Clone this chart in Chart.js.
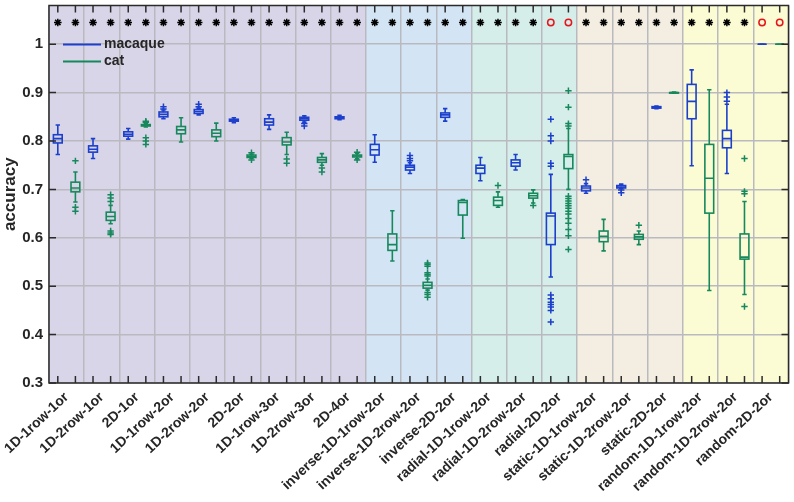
<!DOCTYPE html>
<html>
<head>
<meta charset="utf-8">
<script src="https://cdn.jsdelivr.net/npm/chart.js@4.4.1/dist/chart.umd.min.js"></script>
<style>
  html, body { margin: 0; padding: 0; background: #fff; }
  #wrap { width: 794px; height: 502px; }
</style>
</head>
<body>
<div id="wrap"><canvas id="chart" width="794" height="502"></canvas></div>
<script>
// Categories
const categories = [
  '1D-1row-1or', '1D-2row-1or', '2D-1or', '1D-1row-2or', '1D-2row-2or', '2D-2or',
  '1D-1row-3or', '1D-2row-3or', '2D-4or',
  'inverse-1D-1row-2or', 'inverse-1D-2row-2or', 'inverse-2D-2or',
  'radial-1D-1row-2or', 'radial-1D-2row-2or', 'radial-2D-2or',
  'static-1D-1row-2or', 'static-1D-2row-2or', 'static-2D-2or',
  'random-1D-1row-2or', 'random-1D-2row-2or', 'random-2D-2or'
];
const yTicks = [0.3, 0.4, 0.5, 0.6, 0.7, 0.8, 0.9, 1];

// Macaque box stats
const macLo  = [0.772, 0.764, 0.804, 0.846, 0.854, 0.838, 0.824, 0.839, 0.844, 0.756, 0.733, 0.841, 0.718, 0.740, 0.519, 0.692, 0.702, 0.867, 0.749, 0.733, 1.0];
const macQ1  = [0.796, 0.777, 0.810, 0.850, 0.857, 0.841, 0.833, 0.843, 0.846, 0.771, 0.740, 0.849, 0.733, 0.748, 0.586, 0.697, 0.703, 0.868, 0.846, 0.786, 1.0];
const macMed = [0.805, 0.783, 0.814, 0.855, 0.861, 0.843, 0.839, 0.846, 0.848, 0.782, 0.746, 0.854, 0.744, 0.755, 0.645, 0.703, 0.705, 0.869, 0.882, 0.805, 1.0];
const macQ3  = [0.813, 0.790, 0.819, 0.860, 0.865, 0.845, 0.846, 0.849, 0.850, 0.793, 0.750, 0.858, 0.750, 0.761, 0.651, 0.707, 0.708, 0.871, 0.917, 0.822, 1.0];
const macHi  = [0.833, 0.805, 0.826, 0.864, 0.868, 0.848, 0.854, 0.852, 0.853, 0.813, 0.755, 0.867, 0.766, 0.772, 0.731, 0.712, 0.711, 0.872, 0.947, 0.876, 1.0];
const macOut = [
  [], [], [], [0.871, 0.866], [0.876, 0.871], [], [], [0.836, 0.831], [], [],
  [0.770, 0.764, 0.759], [], [], [],
  [0.845, 0.811, 0.800, 0.754, 0.748, 0.482, 0.474, 0.467, 0.462, 0.457, 0.450, 0.426],
  [0.720], [0.699, 0.693], [], [], [0.900, 0.891, 0.882], []
];

// Cat box stats
const catLo  = [0.674, 0.629, 0.829, 0.798, 0.800, 0.764, 0.772, 0.750, 0.763, 0.552, 0.492, 0.599, 0.663, 0.672, 0.700, 0.573, 0.586, 0.899, 0.491, 0.483, 1.0];
const catQ1  = [0.695, 0.636, 0.831, 0.815, 0.809, 0.766, 0.792, 0.756, 0.767, 0.574, 0.496, 0.647, 0.667, 0.682, 0.743, 0.592, 0.597, 0.899, 0.651, 0.556, 1.0];
const catMed = [0.703, 0.644, 0.833, 0.823, 0.816, 0.768, 0.798, 0.761, 0.769, 0.586, 0.502, 0.673, 0.677, 0.687, 0.768, 0.603, 0.602, 0.900, 0.723, 0.560, 1.0];
const catQ3  = [0.715, 0.653, 0.834, 0.830, 0.823, 0.771, 0.807, 0.766, 0.771, 0.608, 0.508, 0.677, 0.684, 0.692, 0.772, 0.614, 0.607, 0.900, 0.793, 0.608, 1.0];
const catHi  = [0.736, 0.667, 0.836, 0.848, 0.837, 0.773, 0.818, 0.774, 0.775, 0.656, 0.515, 0.679, 0.695, 0.699, 0.826, 0.638, 0.614, 0.901, 0.906, 0.675, 1.0];
const catOut = [
  [0.759, 0.663, 0.655], [0.689, 0.682, 0.675, 0.614, 0.610, 0.607],
  [0.841, 0.839, 0.807, 0.800, 0.793], [], [], [0.776, 0.761],
  [0.763, 0.754], [0.744, 0.736], [0.777, 0.761], [],
  [0.548, 0.545, 0.541, 0.528, 0.524, 0.521, 0.487, 0.483, 0.477], [],
  [0.708], [0.667],
  [0.904, 0.870, 0.836, 0.831, 0.686, 0.681, 0.676, 0.671, 0.666, 0.661, 0.655, 0.649, 0.640, 0.630, 0.617, 0.604, 0.576],
  [], [0.626], [], [], [0.764, 0.696, 0.691, 0.458], []
];

// Significance marks above each box ('*' or 'o'), macaque and cat
const macSig = ['*','*','*','*','*','*','*','*','*','*','*','*','*','*','o','*','*','*','*','*','o'];
const catSig = ['*','*','*','*','*','*','*','*','*','*','*','*','*','*','o','*','*','*','*','*','o'];
const sigLevel = 1.045;

// Background groups (first category index of each group)
const groupStarts = [0, 9, 12, 15, 18, 21];
const groupColors = ['#d9d5e9', '#d3e5f5', '#d5eeea', '#f3eee1', '#fcfcd4'];

const macColor = '#1c3fcc';
const catColor = '#17885c';
const gridColor = '#b9b9bf';
const axisColor = '#2b2b2b';
const FONT = '"Liberation Sans", Arial, sans-serif';

const macX = i => 2 * i + 0.5;
const catX = i => 2 * i + 1.5;

const macOutPts = [];
macOut.forEach((arr, i) => arr.forEach(v => macOutPts.push({ x: macX(i), y: v })));
const catOutPts = [];
catOut.forEach((arr, i) => arr.forEach(v => catOutPts.push({ x: catX(i), y: v })));

const sigPts = [], sigStyles = [], sigColors = [];
categories.forEach((c, i) => {
  [[macX(i), macSig[i]], [catX(i), catSig[i]]].forEach(([x, s]) => {
    sigPts.push({ x: x, y: sigLevel });
    sigStyles.push(s === '*' ? 'star' : 'circle');
    sigColors.push(s === '*' ? '#000' : '#e8141b');
  });
});

// Background bands
const bandsPlugin = {
  id: 'bands',
  beforeDraw(chart) {
    const { ctx, chartArea: a, scales: { x } } = chart;
    ctx.save();
    for (let g = 0; g < groupColors.length; g++) {
      const x0 = x.getPixelForValue(groupStarts[g] * 2);
      const x1 = x.getPixelForValue(groupStarts[g + 1] * 2);
      ctx.fillStyle = groupColors[g];
      ctx.fillRect(x0, a.top, x1 - x0, a.bottom - a.top);
    }
    ctx.restore();
  }
};

// Boxes, whiskers, medians
function drawBox(ctx, xs, ys, xv, lo, q1, med, q3, hi, color) {
  const xc = xs.getPixelForValue(xv);
  const hw = xs.getPixelForValue(xv + 0.25) - xc;
  const cw = hw * 0.5;
  const p = v => ys.getPixelForValue(v);
  ctx.strokeStyle = color;
  ctx.lineWidth = 1.6;
  ctx.beginPath();
  ctx.moveTo(xc, p(q3)); ctx.lineTo(xc, p(hi));
  ctx.moveTo(xc, p(q1)); ctx.lineTo(xc, p(lo));
  ctx.moveTo(xc - cw, p(hi)); ctx.lineTo(xc + cw, p(hi));
  ctx.moveTo(xc - cw, p(lo)); ctx.lineTo(xc + cw, p(lo));
  ctx.stroke();
  ctx.strokeRect(xc - hw, p(q3), hw * 2, p(q1) - p(q3));
  ctx.beginPath();
  ctx.moveTo(xc - hw, p(med)); ctx.lineTo(xc + hw, p(med));
  ctx.stroke();
}

const boxPlugin = {
  id: 'boxes',
  beforeDatasetsDraw(chart) {
    const { ctx, chartArea: a, scales: { x, y } } = chart;
    ctx.save();
    ctx.beginPath();
    ctx.rect(a.left, a.top, a.right - a.left, a.bottom - a.top);
    ctx.clip();
    categories.forEach((c, i) => {
      drawBox(ctx, x, y, macX(i), macLo[i], macQ1[i], macMed[i], macQ3[i], macHi[i], macColor);
      drawBox(ctx, x, y, catX(i), catLo[i], catQ1[i], catMed[i], catQ3[i], catHi[i], catColor);
    });
    ctx.restore();
  }
};

// Frame, inward ticks and legend
const framePlugin = {
  id: 'frame',
  afterDraw(chart) {
    const { ctx, chartArea: a, scales: { x, y } } = chart;
    ctx.save();
    ctx.strokeStyle = axisColor;
    ctx.lineWidth = 1.5;
    ctx.strokeRect(a.left, a.top, a.right - a.left, a.bottom - a.top);
    ctx.beginPath();
    for (let k = 0; k < categories.length * 2; k++) {
      const px = x.getPixelForValue(k + 0.5);
      ctx.moveTo(px, a.bottom); ctx.lineTo(px, a.bottom - 7);
      ctx.moveTo(px, a.top); ctx.lineTo(px, a.top + 7);
    }
    yTicks.forEach(v => {
      const py = y.getPixelForValue(v);
      ctx.moveTo(a.left, py); ctx.lineTo(a.left + 7, py);
      ctx.moveTo(a.right, py); ctx.lineTo(a.right - 7, py);
    });
    ctx.stroke();

    // legend
    const items = [['macaque', macColor], ['cat', catColor]];
    ctx.font = 'bold 14px ' + FONT;
    ctx.textBaseline = 'middle';
    items.forEach(([label, color], j) => {
      const ly = a.top + 39 + j * 17;
      ctx.strokeStyle = color;
      ctx.lineWidth = 2;
      ctx.beginPath();
      ctx.moveTo(a.left + 14, ly); ctx.lineTo(a.left + 52, ly);
      ctx.stroke();
      ctx.fillStyle = '#262626';
      ctx.fillText(label, a.left + 55, ly);
    });
    ctx.restore();
  }
};

new Chart(document.getElementById('chart'), {
  type: 'scatter',
  data: {
    datasets: [
      {
        label: 'macaque',
        data: macOutPts,
        pointStyle: 'cross',
        radius: 3.2,
        borderColor: macColor,
        backgroundColor: macColor,
        borderWidth: 1.5
      },
      {
        label: 'cat',
        data: catOutPts,
        pointStyle: 'cross',
        radius: 3.2,
        borderColor: catColor,
        backgroundColor: catColor,
        borderWidth: 1.5
      },
      {
        label: 'sig',
        data: sigPts,
        pointStyle: sigStyles,
        radius: sigStyles.map(s => s === 'star' ? 3.8 : 3.2),
        borderColor: sigColors,
        backgroundColor: 'rgba(0,0,0,0)',
        borderWidth: 1.5
      }
    ]
  },
  options: {
    responsive: false,
    animation: false,
    layout: { padding: { top: 2, right: 2, left: 0, bottom: 0 } },
    plugins: { legend: { display: false }, tooltip: { enabled: false } },
    scales: {
      x: {
        type: 'linear',
        min: 0,
        max: categories.length * 2,
        afterBuildTicks: s => {
          s.ticks = [];
          for (let k = 0; k <= categories.length * 2; k++) s.ticks.push({ value: k });
        },
        afterFit: s => {
          s.height = 119;
          s.paddingLeft = 0;
          s.paddingRight = 0;
        },
        ticks: {
          autoSkip: false,
          minRotation: 43,
          maxRotation: 43,
          padding: 6,
          color: '#262626',
          font: { family: FONT, size: 14, weight: 'bold' },
          callback: v => (v % 2 === 1 ? categories[(v - 1) / 2] : '')
        },
        grid: {
          drawTicks: false,
          lineWidth: 1.5,
          color: c => (c.tick && c.tick.value % 2 === 0 ? gridColor : 'rgba(0,0,0,0)')
        },
        border: { display: false }
      },
      y: {
        min: 0.3,
        max: 1.08,
        afterBuildTicks: s => { s.ticks = yTicks.map(v => ({ value: v })); },
        afterFit: s => {
          s.width = 49;
          s.paddingTop = 0;
          s.paddingBottom = 0;
        },
        ticks: {
          padding: 6,
          color: '#262626',
          font: { family: FONT, size: 15, weight: 'bold' },
          callback: v => (v === 1 ? '1' : v.toFixed(1))
        },
        grid: { drawTicks: false, lineWidth: 1.5, color: gridColor },
        border: { display: false },
        title: {
          display: true,
          text: 'accuracy',
          color: '#262626',
          padding: { top: 0, bottom: 2 },
          font: { family: FONT, size: 17, weight: 'bold' }
        }
      }
    }
  },
  plugins: [bandsPlugin, boxPlugin, framePlugin]
});
</script>
</body>
</html>
